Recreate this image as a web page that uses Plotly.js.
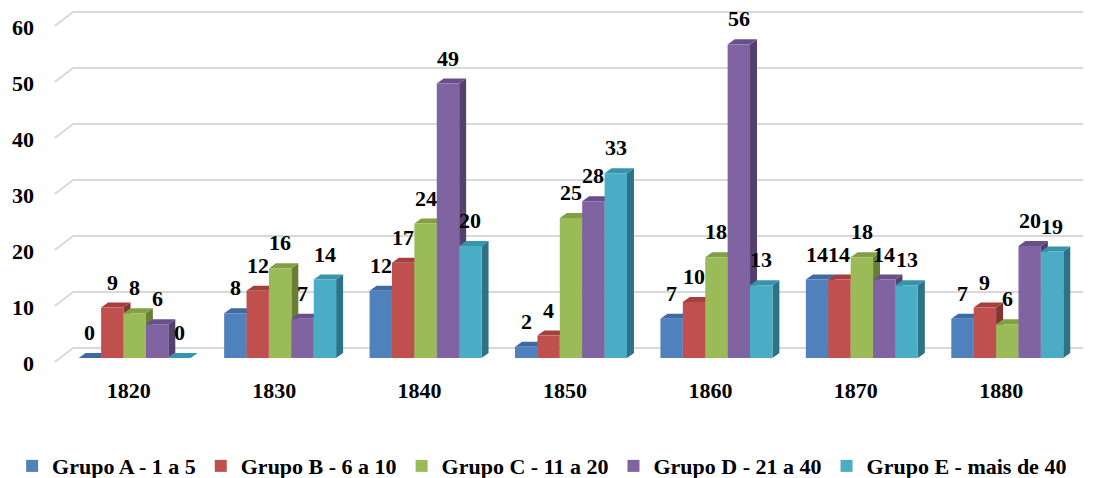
<!DOCTYPE html>
<html><head><meta charset="utf-8">
<script src="https://cdn.plot.ly/plotly-3.0.1.min.js"></script>
<style>html,body{margin:0;padding:0;background:#fff}</style>
</head><body><div id="chart" style="width:1095px;height:478px"></div>
<script>
const categories = ['1820','1830','1840','1850','1860','1870','1880'];
const seriesNames = ['Grupo A - 1 a 5','Grupo B - 6 a 10','Grupo C - 11 a 20','Grupo D - 21 a 40','Grupo E - mais de 40'];
const grupoA = [0, 8, 12, 2, 7, 14, 7];
const grupoB = [9, 12, 17, 4, 10, 14, 9];
const grupoC = [8, 16, 24, 25, 18, 18, 6];
const grupoD = [6, 7, 49, 28, 56, 14, 20];
const grupoE = [0, 14, 20, 33, 13, 13, 19];
const yTicks = [0, 10, 20, 30, 40, 50, 60];

const seriesValues = [grupoA, grupoB, grupoC, grupoD, grupoE];
const frontColors = ['#4F81BD','#C0504D','#9BBB59','#8064A2','#4BACC6'];
const topColors   = ['#3D6AA2','#A33F3C','#80A043','#684F8A','#3694AD'];
const sideColors  = ['#2F5283','#853331','#677F36','#52406D','#2C7388'];

const fontFam = 'Liberation Serif';
const bargap = 0.23;
const nS = seriesValues.length;
const bw = (1 - bargap) / nS;
const dx = 0.048, dy = 0.9;      // bar depth (axis units)
const backOff = 1.79;            // back wall offset (axis units)
const xIdx = categories.map((c, i) => i);

const traces = seriesValues.map((vals, i) => ({
  type: 'bar', name: '<b>' + seriesNames[i] + '</b>', x: xIdx, y: vals,
  marker: {color: frontColors[i], line: {width: 0}},
  hoverinfo: 'skip'
}));

const shapes = [];
yTicks.forEach(v => {
  shapes.push({type: 'line', layer: 'below', xref: 'paper', yref: 'y',
    x0: 0.0108, x1: 1.003, y0: v + backOff, y1: v + backOff,
    line: {color: '#D9D9D9', width: 2}});
  shapes.push({type: 'line', layer: 'below', xref: 'paper', yref: 'y',
    x0: -0.007, x1: 0.0108, y0: v - 0.7, y1: v + backOff,
    line: {color: '#D9D9D9', width: 2}});
});
xIdx.forEach(j => {
  seriesValues.forEach((vals, i) => {
    const v = vals[j];
    const x0 = j + (i - 2) * bw - bw / 2, x1 = x0 + bw;
    shapes.push({type: 'path', layer: 'below', xref: 'x', yref: 'y',
      path: `M${x1},0 L${x1},${v} L${x1 + dx},${v + dy} L${x1 + dx},${dy} Z`,
      fillcolor: sideColors[i], line: {width: 0}});
    shapes.push({type: 'path', layer: 'below', xref: 'x', yref: 'y',
      path: `M${x0},${v} L${x1},${v} L${x1 + dx},${v + dy} L${x0 + dx},${v + dy} Z`,
      fillcolor: topColors[i], line: {width: 0}});
  });
});

const annotations = [];
seriesValues.forEach((vals, i) => {
  vals.forEach((v, j) => {
    annotations.push({x: j + (i - 2) * bw, y: v, xref: 'x', yref: 'y',
      text: '<b>' + v + '</b>', showarrow: false, yanchor: 'bottom', yshift: 11,
      font: {family: fontFam, size: 22, color: '#000'}});
  });
});

const layout = {
  width: 1095, height: 478,
  margin: {l: 62, r: 14.5, t: 10, b: 115, autoexpand: false},
  paper_bgcolor: '#fff', plot_bgcolor: 'rgba(0,0,0,0)',
  font: {family: fontFam, color: '#000'},
  barmode: 'group', bargap: bargap, bargroupgap: 0,
  showlegend: true,
  legend: {orientation: 'h', xref: 'paper', yref: 'paper',
    x: -0.049, xanchor: 'left', y: -0.292, yanchor: 'middle',
    itemwidth: 30, tracegroupgap: 0,
    font: {family: fontFam, size: 22, color: '#000'}},
  xaxis: {type: 'linear', range: [-0.5, 6.5], tickvals: xIdx, ticktext: categories.map(c => '<b>' + c + '</b>'),
    showgrid: false, zeroline: false, showline: false, ticks: '',
    ticklabelstandoff: 12, ticklabelshift: -6,
    tickfont: {family: fontFam, size: 22, color: '#000'}},
  yaxis: {range: [-0.89, 62.14], tickvals: yTicks, ticktext: yTicks.map(t => '<b>' + t + '</b>'),
    showgrid: false, zeroline: false,
    showline: false, ticks: '', ticklabelstandoff: 27, ticklabelshift: 5,
    tickfont: {family: fontFam, size: 22, color: '#000'}},
  shapes: shapes,
  annotations: annotations
};

Plotly.newPlot('chart', traces, layout, {displayModeBar: false, staticPlot: true});
</script>
</body></html>
